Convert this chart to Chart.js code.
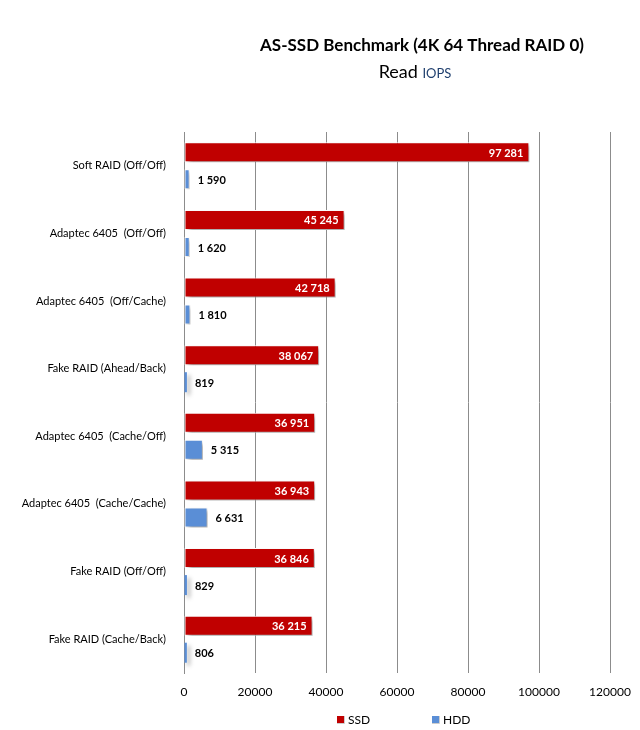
<!DOCTYPE html>
<html>
<head>
<meta charset="utf-8">
<script src="https://cdn.jsdelivr.net/npm/chart.js@4/dist/chart.umd.min.js"></script>
<style>
  html, body { margin: 0; padding: 0; background: #fff; }
  #wrap { width: 640px; height: 730px; }
</style>
</head>
<body>
<div id="wrap"><canvas id="chart" width="640" height="730"></canvas></div>
<script>
// données du graphique
const categories = [
  'Soft RAID (Off/Off)',
  'Adaptec 6405  (Off/Off)',
  'Adaptec 6405  (Off/Cache)',
  'Fake RAID (Ahead/Back)',
  'Adaptec 6405  (Cache/Off)',
  'Adaptec 6405  (Cache/Cache)',
  'Fake RAID (Off/Off)',
  'Fake RAID (Cache/Back)'
];
const ssdValues = [97281, 45245, 42718, 38067, 36951, 36943, 36846, 36215];
const hddValues = [1590, 1620, 1810, 819, 5315, 6631, 829, 806];
const xTicks = [0, 20000, 40000, 60000, 80000, 100000, 120000];

const FONT = 'Lato, "Open Sans", sans-serif';
const SSD_COLOR = '#C00000';
const HDD_COLOR = '#5A8ED6';

function fmt(n) {
  return n.toString().replace(/\B(?=(\d{3})+(?!\d))/g, ' ');
}

// ombre sous les barres
const shadowPlugin = {
  id: 'shadow',
  beforeDatasetsDraw(chart) {
    const ctx = chart.ctx;
    ctx.save();
    ctx.shadowColor = 'rgba(0,0,0,0.35)';
    ctx.shadowBlur = 4;
    ctx.shadowOffsetX = 3;
    ctx.shadowOffsetY = 3;
  },
  afterDatasetsDraw(chart) {
    chart.ctx.restore();
  }
};

// titre, valeurs et légende
const labelsPlugin = {
  id: 'labels',
  afterDraw(chart) {
    const ctx = chart.ctx;
    ctx.save();

    // titre
    ctx.fillStyle = '#000';
    ctx.textAlign = 'center';
    ctx.textBaseline = 'middle';
    ctx.font = 'bold 17px ' + FONT;
    ctx.fillText('AS-SSD Benchmark (4K 64 Thread RAID 0)', 422, 46);

    ctx.font = '18px ' + FONT;
    const w1 = ctx.measureText('Read ').width;
    ctx.font = '13px ' + FONT;
    const w2 = ctx.measureText('IOPS').width;
    let x0 = 415 - (w1 + w2) / 2;
    ctx.textAlign = 'left';
    ctx.textBaseline = 'alphabetic';
    ctx.font = '18px ' + FONT;
    ctx.fillStyle = '#000';
    ctx.fillText('Read ', x0, 78);
    ctx.font = '13px ' + FONT;
    ctx.fillStyle = '#1F3F6E';
    ctx.fillText('IOPS', x0 + w1, 78);
    ctx.textBaseline = 'middle';

    // valeurs
    ctx.font = 'bold 11px ' + FONT;
    chart.getDatasetMeta(0).data.forEach((bar, i) => {
      ctx.fillStyle = '#fff';
      ctx.textAlign = 'right';
      ctx.fillText(fmt(ssdValues[i]), bar.x - 6, bar.y + 1);
    });
    chart.getDatasetMeta(1).data.forEach((bar, i) => {
      ctx.fillStyle = '#000';
      ctx.textAlign = 'left';
      ctx.fillText(fmt(hddValues[i]), bar.x + 8, bar.y + 1);
    });

    // légende
    const items = [['SSD', SSD_COLOR, 337], ['HDD', HDD_COLOR, 432]];
    ctx.font = '12px ' + FONT;
    items.forEach(([txt, col, x]) => {
      ctx.fillStyle = col;
      ctx.fillRect(x, 716, 7, 7);
      ctx.strokeStyle = 'rgba(200,200,200,0.9)';
      ctx.lineWidth = 1;
      ctx.beginPath();
      ctx.moveTo(x + 7.5, 716);
      ctx.lineTo(x + 7.5, 723.5);
      ctx.lineTo(x, 723.5);
      ctx.stroke();
      ctx.fillStyle = '#000';
      ctx.textAlign = 'left';
      ctx.fillText(txt, x + 11, 720);
    });

    ctx.restore();
  }
};

new Chart(document.getElementById('chart'), {
  type: 'bar',
  data: {
    labels: categories,
    datasets: [
      {
        label: 'SSD',
        data: ssdValues,
        backgroundColor: SSD_COLOR,
        borderColor: '#fff',
        borderWidth: 1,
        borderSkipped: false
      },
      {
        label: 'HDD',
        data: hddValues,
        backgroundColor: HDD_COLOR,
        borderColor: '#fff',
        // les barres très fines disparaissent sous la bordure
        borderWidth: c => (c.raw < 1000 ? 0 : 1),
        borderSkipped: false
      }
    ]
  },
  options: {
    indexAxis: 'y',
    responsive: false,
    animation: false,
    devicePixelRatio: 1,
    layout: { padding: { top: 132, right: 30, bottom: 0, left: 0 } },
    datasets: { bar: { categoryPercentage: 0.8, barPercentage: 0.74 } },
    plugins: {
      legend: { display: false },
      title: { display: false },
      tooltip: { enabled: false }
    },
    scales: {
      x: {
        min: 0,
        max: 120000,
        afterBuildTicks(axis) {
          axis.ticks = xTicks.map(v => ({ value: v }));
        },
        afterFit(axis) {
          axis.height = 57;
          axis.paddingLeft = 0;
          axis.paddingRight = 0;
        },
        grid: {
          color: '#8c8c8c',
          lineWidth: 1,
          drawTicks: false
        },
        border: { display: false },
        ticks: {
          color: '#000',
          font: { family: FONT, size: 12 },
          padding: 12,
          maxRotation: 0,
          callback: v => String(v)
        }
      },
      y: {
        afterFit(axis) { axis.width = 184; },
        grid: { display: false },
        border: { display: true, color: '#8c8c8c' },
        ticks: {
          color: '#000',
          font: { family: FONT, size: 11 },
          padding: 10
        }
      }
    }
  },
  plugins: [shadowPlugin, labelsPlugin]
});
</script>
</body>
</html>
